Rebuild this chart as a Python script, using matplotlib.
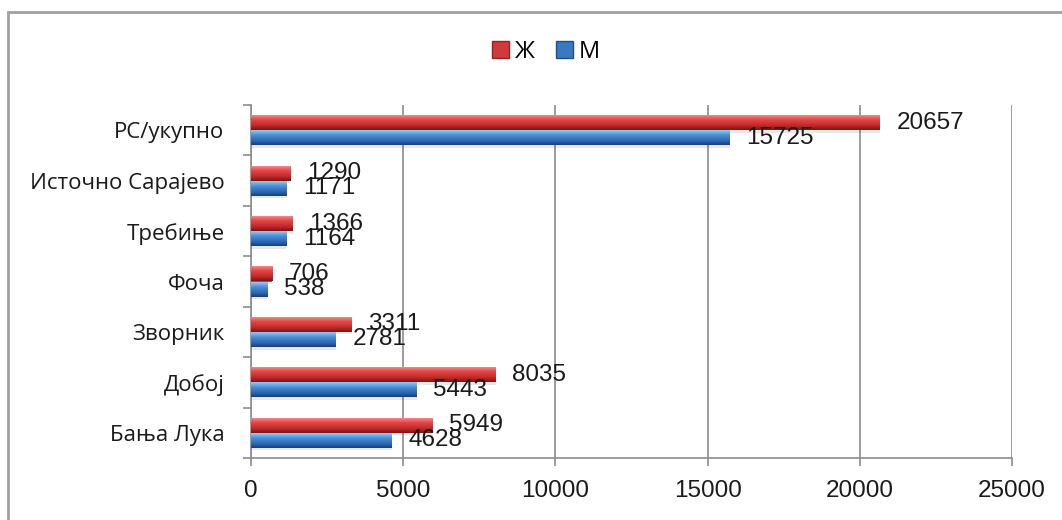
import numpy as np
import matplotlib
matplotlib.use("Agg")
import matplotlib.pyplot as plt
from matplotlib.colors import LinearSegmentedColormap
from matplotlib.patches import Rectangle

categories = ["Бања Лука", "Добој", "Зворник", "Фоча", "Требиње", "Источно Сарајево", "РС/укупно"]
zh_values = [5949, 8035, 3311, 706, 1366, 1290, 20657]   # Ж
m_values = [4628, 5443, 2781, 538, 1164, 1171, 15725]    # М
series_names = ["Ж", "М"]
x_ticks = [0, 5000, 10000, 15000, 20000, 25000]

label_font = ["Open Sans", "DejaVu Sans"]
num_font = ["Liberation Sans", "DejaVu Sans"]

fig = plt.figure(figsize=(10.62, 5.20), dpi=100)
ax = fig.add_axes([251 / 1062, 1 - 458 / 520, (1012 - 251) / 1062, (458 - 105) / 520])

red_cmap = LinearSegmentedColormap.from_list(
    "r", [(0.0, "#e9a3a3"), (0.12, "#f07a7a"), (0.35, "#e04848"), (0.7, "#c42a2a"), (1.0, "#7d1414")])
blue_cmap = LinearSegmentedColormap.from_list(
    "b", [(0.0, "#a9d3f2"), (0.15, "#7fb8ea"), (0.4, "#4a8ad2"), (0.75, "#2a66b0"), (1.0, "#173f78")])

y = np.arange(len(categories))
h = 0.3

def gradient_bars(ypos, vals, cmap, base):
    # soft shadow
    ax.barh(ypos - 0.05, vals, height=h, left=0, color="#000000", alpha=0.09, zorder=2)
    bars = ax.barh(ypos, vals, height=h, color=base, zorder=3, edgecolor="none")
    grad = np.linspace(0, 1, 64).reshape(-1, 1)
    for b in bars:
        x0, y0 = b.get_x(), b.get_y()
        w, hh = b.get_width(), b.get_height()
        im = ax.imshow(grad, cmap=cmap, extent=(x0, x0 + w, y0, y0 + hh),
                       origin="upper", aspect="auto", zorder=4, interpolation="bilinear")
        im.set_clip_path(b)
    return bars

gradient_bars(y + h / 2, zh_values, red_cmap, "#d03a3a")
gradient_bars(y - h / 2, m_values, blue_cmap, "#3a78c0")

for i in range(len(categories)):
    ax.annotate(f"{zh_values[i]}", xy=(zh_values[i], y[i] + h / 2), xytext=(12, 0),
                textcoords="offset points", va="center", ha="left",
                fontsize=17.5, family=num_font, color="#1a1a1a", zorder=6)
    ax.annotate(f"{m_values[i]}", xy=(m_values[i], y[i] - h / 2), xytext=(12, 0),
                textcoords="offset points", va="center", ha="left",
                fontsize=17.5, family=num_font, color="#1a1a1a", zorder=6)

ax.set_xlim(0, 25000)
ax.set_ylim(-0.5, len(categories) - 0.5)
ax.set_xticks(x_ticks)
ax.set_xticklabels([str(t) for t in x_ticks], fontsize=17.5, family=num_font, color="#1a1a1a")
ax.set_yticks(y)
ax.set_yticklabels(categories, fontsize=16, family=label_font, color="#1a1a1a")
ax.set_yticks(np.arange(-0.5, len(categories), 1.0), minor=True)
ax.tick_params(axis="y", which="major", length=0, pad=19)
ax.tick_params(axis="y", which="minor", length=6, color="#8c8c8c", width=1.2)
ax.tick_params(axis="x", which="major", length=6, color="#8c8c8c", width=1.2, pad=10)
ax.grid(axis="x", color="#8c8c8c", linewidth=1.2, zorder=0)
ax.set_axisbelow(True)
for s in ["top", "right"]:
    ax.spines[s].set_visible(False)
for s in ["left", "bottom"]:
    ax.spines[s].set_color("#8c8c8c")
    ax.spines[s].set_linewidth(1.2)

# legend
handles = [Rectangle((0, 0), 1, 1, facecolor="#d03a3a", edgecolor="#9a2020"),
           Rectangle((0, 0), 1, 1, facecolor="#3a78c0", edgecolor="#1f4f8a")]
fig.legend(handles, series_names, loc="center", bbox_to_anchor=(546 / 1062, 1 - 52 / 520),
           ncol=2, frameon=False, prop={"family": label_font, "size": 17},
           handlelength=0.7, handleheight=0.7, handletextpad=0.25, columnspacing=0.9)

# outer chart border
fig.patches.append(Rectangle((8 / 1062, -0.1), 1.2, 1 - 12 / 520 + 0.1, transform=fig.transFigure,
                             fill=False, edgecolor="#a0a0a0", linewidth=2))

fig.savefig("out.png", dpi=100)
